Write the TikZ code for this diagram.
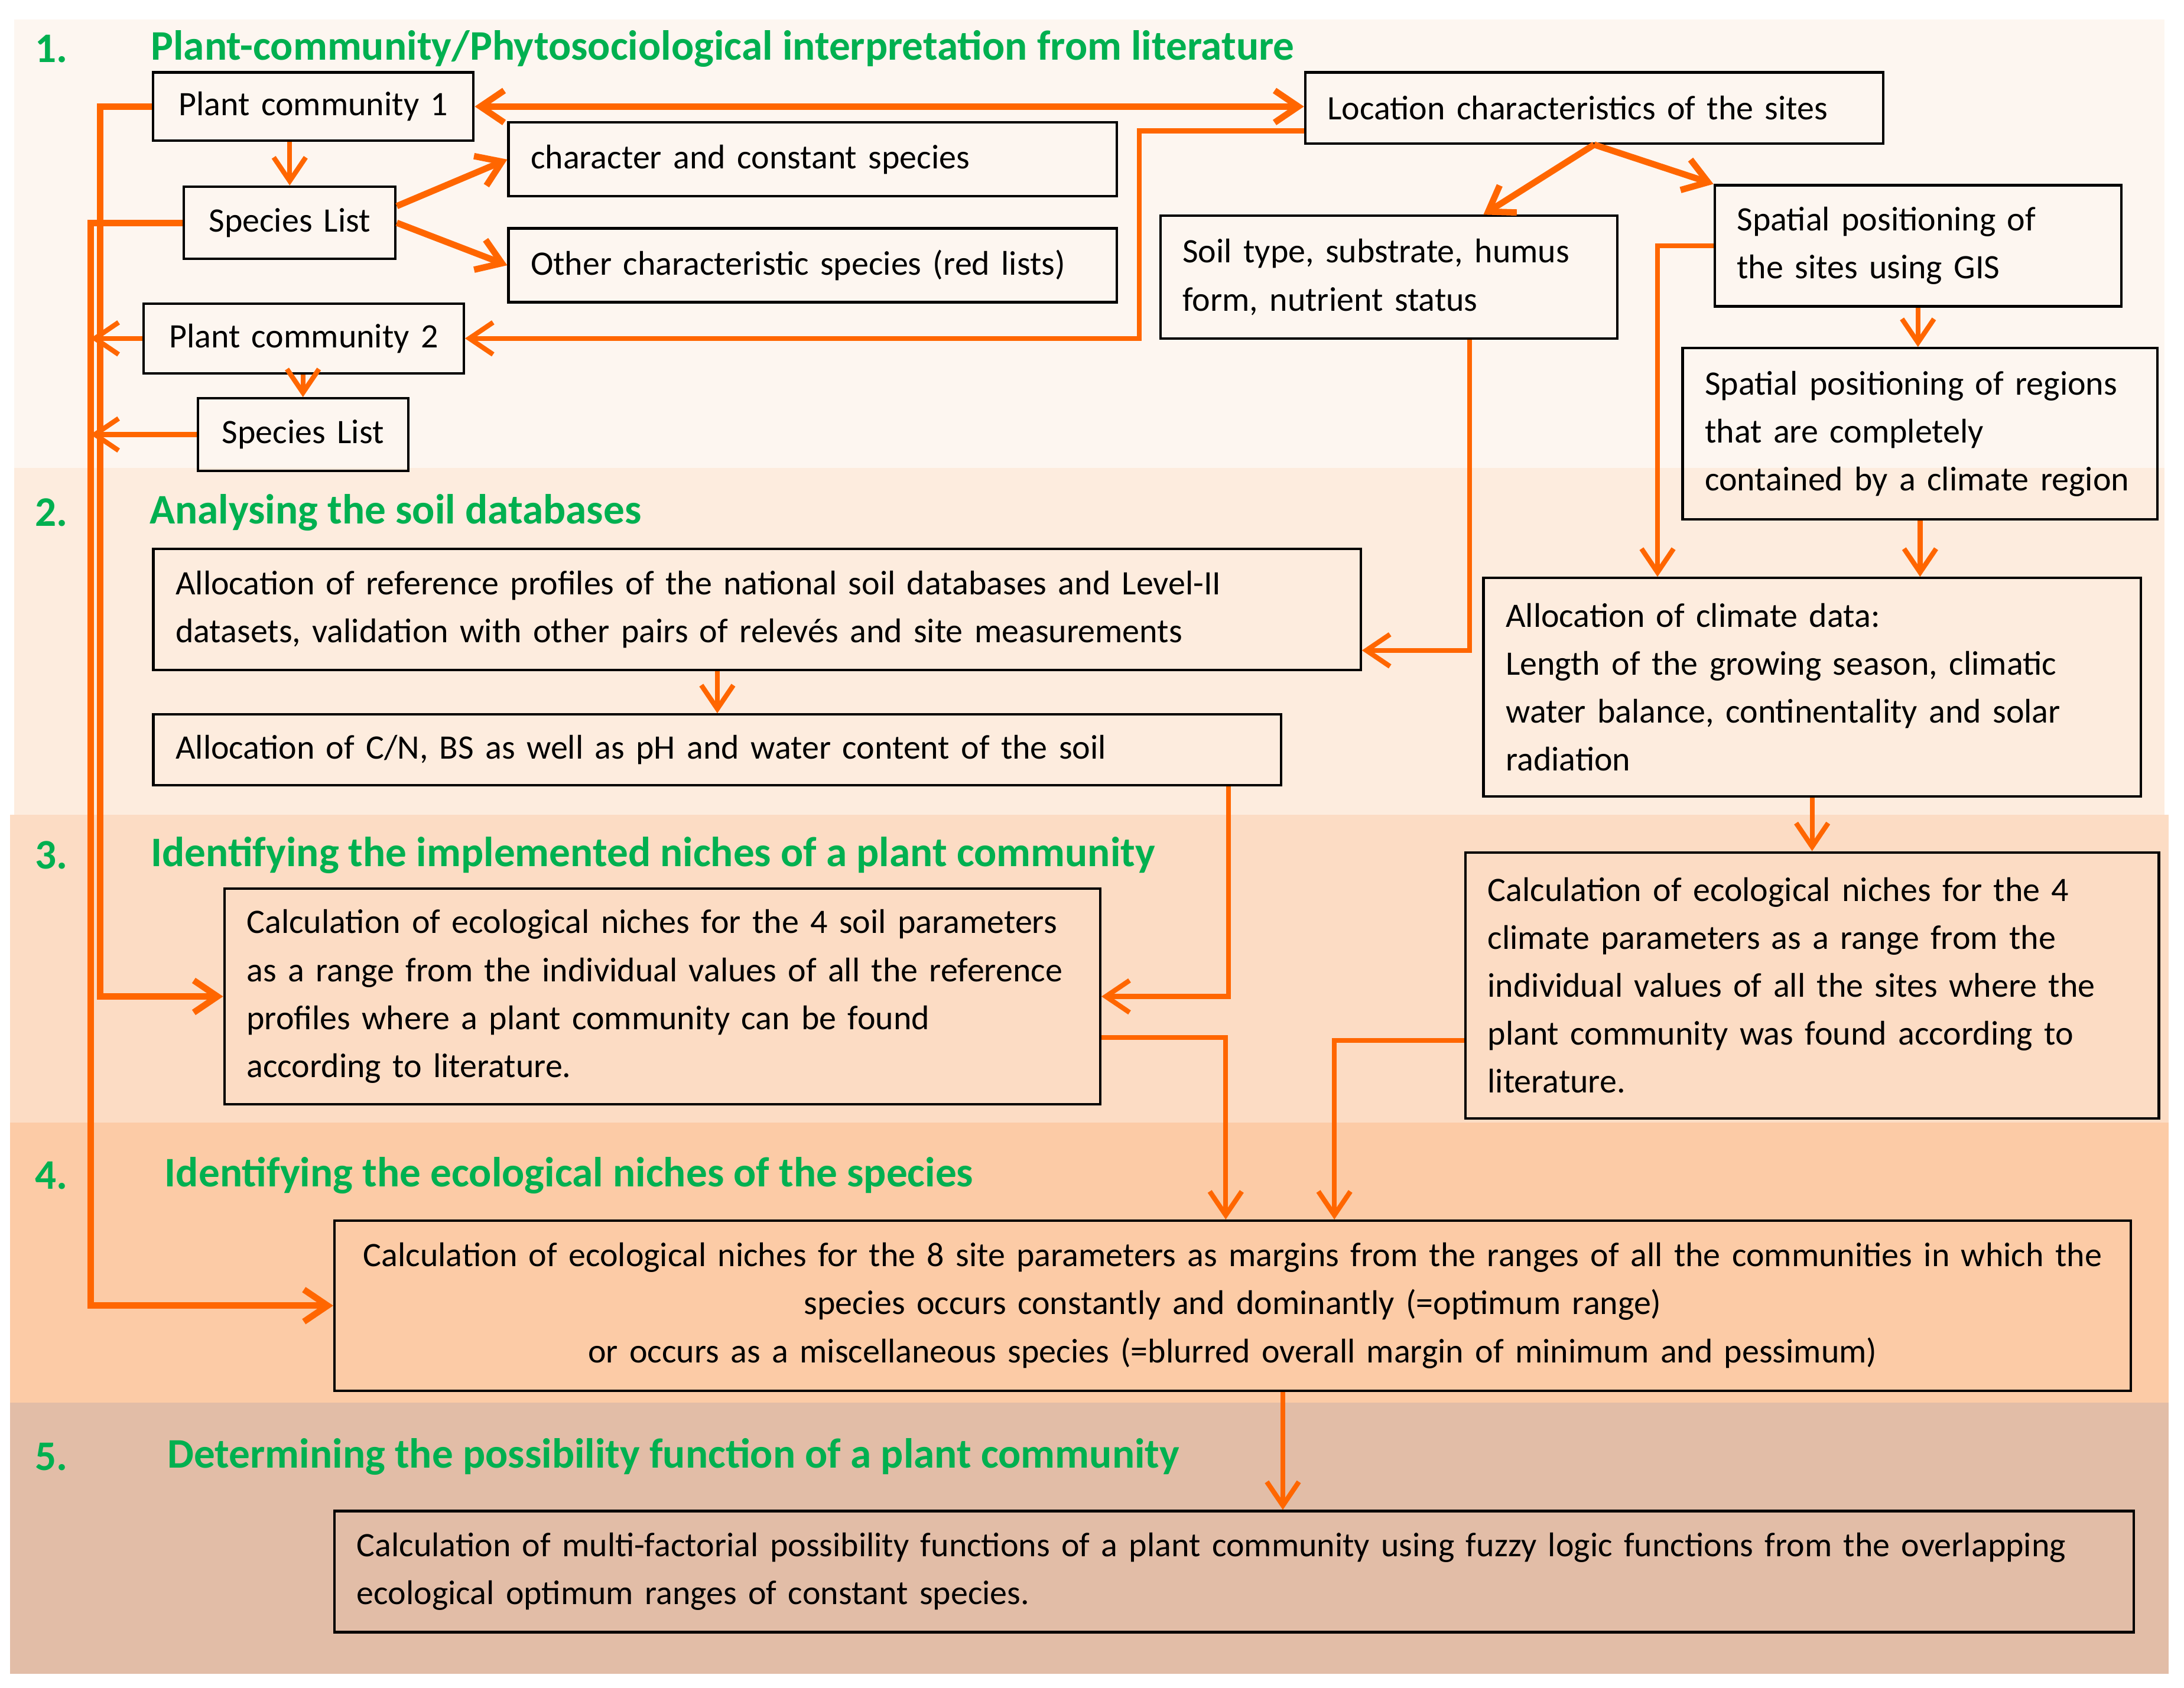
\documentclass[tikz,border=0pt]{standalone}
\usepackage{fontspec}
\setmainfont{Carlito}
\usetikzlibrary{arrows.meta}
\definecolor{flow}{RGB}{255,102,0}
\definecolor{head}{RGB}{0,176,80}
\definecolor{bandone}{RGB}{253,246,240}
\definecolor{bandtwo}{RGB}{253,236,222}
\definecolor{bandthree}{RGB}{252,220,196}
\definecolor{bandfour}{RGB}{252,203,166}
\definecolor{bandfive}{RGB}{226,189,167}
\tikzset{box/.style={draw,line width=1pt,inner xsep=0.32cm,inner ysep=0pt,align=left,
           font=\fontsize{14}{19.6}\selectfont},
         ttl/.style={head,anchor=west,inner sep=0pt,font=\fontsize{17.2}{20}\selectfont\bfseries},
         flowedge/.style={flow,line width=2pt,-{Straight Barb[length=0.34cm,width=0.46cm]}},
         thickedge/.style={flowedge,line width=2.6pt},
         bothedge/.style={thickedge,{Straight Barb[length=0.34cm,width=0.46cm]}-{Straight Barb[length=0.34cm,width=0.46cm]}}
}
\begin{document}
\begin{tikzpicture}[x=0.02cm,y=-0.02cm]
\useasboundingbox (0,0) rectangle (1568,1212);
\foreach \ya/\yb/\xa/\xb/\bandcol in {14/336/10/1554/bandone,336/585/10/1554/bandtwo,585/806/7/1557/bandthree,806/1007/7/1557/bandfour,1007/1202/7/1557/bandfive}
  \fill[\bandcol] (\xa,\ya) rectangle (\xb,\yb);

% section titles
\foreach \n/\y in {1/35,2/368,3/614,4/844,5/1046}
  \node[ttl] (num\n) at (25,\y) {\n.};
\node[ttl] (title1) at (108,35) {Plant-community/Phytosociological interpretation from literature};
\node[ttl] (title2) at (107,368) {Analysing the soil databases};
\node[ttl] (title3) at (108,614) {Identifying the implemented niches of a plant community};
\node[ttl] (title4) at (118,844) {Identifying the ecological niches of the species};
\node[ttl] (title5) at (120,1046) {Determining the possibility function of a plant community};

% boxes
\node[box,text width=3.96cm,minimum height=0.98cm,align=center] (pc1) at (225,76.5) {Plant community 1};
\node[box,text width=8.10cm,minimum height=1.06cm] (char) at (583.5,114.5) {character and constant species};
\node[box,text width=2.40cm,minimum height=1.04cm,align=center] (sl1) at (208,160) {Species List};
\node[box,text width=8.10cm,minimum height=1.06cm] (other) at (583.5,190.5) {Other characteristic species (red lists)};
\node[box,text width=3.96cm,minimum height=1.0cm,align=center] (pc2) at (218,243) {Plant community 2};
\node[box,text width=2.38cm,minimum height=1.04cm,align=center] (sl2) at (217.5,312) {Species List};
\node[box,text width=7.66cm,minimum height=1.02cm] (loc) at (1144.5,77.5) {Location characteristics of the sites};
\node[box,text width=5.92cm,minimum height=1.76cm] (soil) at (997,199) {Soil type, substrate, humus\\form, nutrient status};
\node[box,text width=5.20cm,minimum height=1.74cm] (gis) at (1377,176.5) {Spatial positioning of\\the sites using GIS};
\node[box,text width=6.18cm,minimum height=2.46cm] (region) at (1378.5,311.5) {Spatial positioning of regions\\that are completely\\contained by a climate region};
\node[box,text width=16.70cm,minimum height=1.74cm] (alloc1) at (543.5,437.5) {Allocation of reference profiles of the national soil databases and Level-II\\datasets, validation with other pairs of relevés and site measurements};
\node[box,text width=15.56cm,minimum height=1.02cm] (alloc2) at (515,538.5) {Allocation of C/N, BS as well as pH and water content of the soil};
\node[box,text width=8.80cm,minimum height=3.14cm] (climate) at (1301,493.5) {Allocation of climate data:\\Length of the growing season, climatic\\water balance, continentality and solar\\radiation};
\node[box,text width=11.94cm,minimum height=3.10cm] (nsoil) at (475.5,715.5) {Calculation of ecological niches for the 4 soil parameters\\as a range from the individual values of all the reference\\profiles where a plant community can be found\\according to literature.};
\node[box,text width=9.32cm,minimum height=3.82cm] (nclim) at (1301,707.5) {Calculation of ecological niches for the 4\\climate parameters as a range from the\\individual values of all the sites where the\\plant community was found according to\\literature.};
\node[box,text width=25.16cm,minimum height=2.44cm,align=center] (nspec) at (885,937.5) {Calculation of ecological niches for the 8 site parameters as margins from the ranges of all the communities in which the\\species occurs constantly and dominantly (=optimum range)\\or occurs as a miscellaneous species (=blurred overall margin of minimum and pessimum)};
\node[box,text width=25.20cm,minimum height=1.74cm] (poss) at (886,1128.5) {Calculation of multi-factorial possibility functions of a plant community using fuzzy logic functions from the overlapping\\ecological optimum ranges of constant species.};

\coordinate (busa) at (72,0);
\coordinate (busb) at (65,0);

% connectors
\draw[bothedge] (pc1.east) -- (pc1.east -| loc.west);
\draw[flowedge] (loc.west |- 0,94) -| (818,243) -- (pc2.east);
\draw[flowedge] (sl1.north |- pc1.south) -- (sl1.north);
\draw[thickedge] (sl1.east |- 0,148) -- (char.west);
\draw[thickedge] (sl1.east) -- (other.west);
\draw[flowedge] (sl2.north |- pc2.south) -- (sl2.north);
\draw[thickedge] (pc1.west) -- (pc1.west -| busa) |- (nsoil.west);
\draw[thickedge] (sl1.west) -- (sl1.west -| busb) |- (nspec.west);
\draw[flowedge] (pc2.west) -- (pc2.west -| busb);
\draw[flowedge] (sl2.west) -- (sl2.west -| busb);
\draw[thickedge] (loc.south) -- (soil.north -| 1065,0);
\draw[thickedge] (loc.south) -- (gis.north west);
\draw[flowedge] (gis.south) -- (gis.south |- region.north);
\draw[flowedge] (gis.west) -| (climate.north -| 1190,0);
\draw[flowedge] (region.south) -- (region.south |- climate.north);
\draw[flowedge] (soil.south -| 1055,0) |- (alloc1.east |- 0,467);
\draw[flowedge] (alloc2.north |- alloc1.south) -- (alloc2.north);
\draw[flowedge] (alloc2.south -| 882,0) |- (nsoil.east);
\draw[flowedge] (climate.south) -- (nclim.north);
\draw[flowedge] (nsoil.east |- 0,745) -| (nspec.north -| 880,0);
\draw[flowedge] (nclim.west |- 0,747) -| (nspec.north -| 958,0);
\draw[flowedge] (nspec.south -| 921,0) -- (poss.north -| 921,0);
\end{tikzpicture}
\end{document}
